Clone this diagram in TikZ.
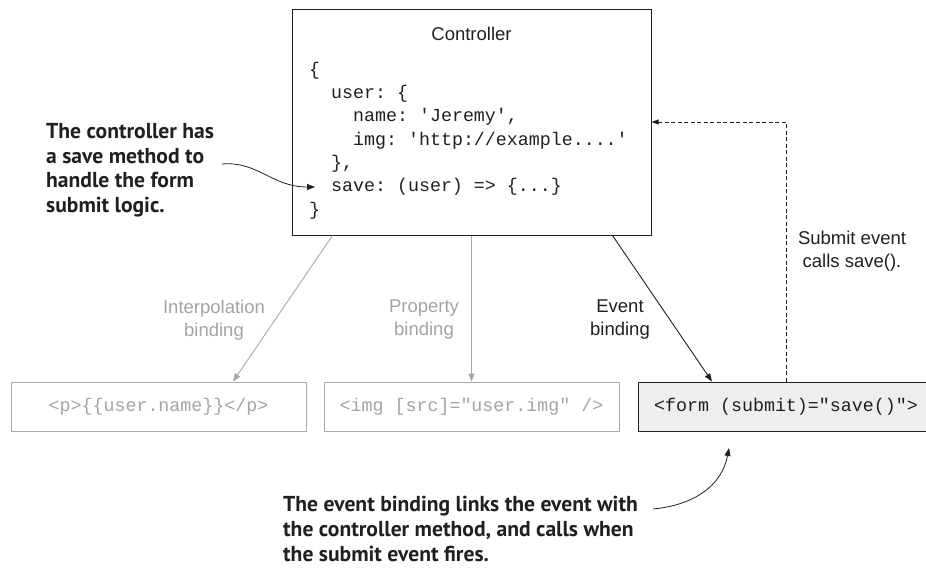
\documentclass[tikz,border=0pt]{standalone}
\usepackage{fontspec}
\setmainfont{Liberation Sans}
\setmonofont{Liberation Mono}
\newfontfamily\annfont{PT Sans}
\usetikzlibrary{arrows.meta,calc}
\definecolor{ink}{HTML}{231F20}
\definecolor{lgrey}{HTML}{A8A8A8}
\definecolor{tgrey}{HTML}{A4A4A4}
\definecolor{formfill}{HTML}{EDEEF0}
\tikzset{
  ctrlbox/.style={draw=ink, line width=1pt, minimum width=359pt, minimum height=226pt, inner sep=0pt},
  code/.style={anchor=base west, inner sep=0pt, text=ink, font=\ttfamily\frenchspacing\fontsize{18.3}{22}\selectfont},
  title/.style={anchor=base, inner sep=0pt, text=ink, font=\fontsize{18.5}{22}\selectfont},
  gbox/.style={draw=lgrey, line width=0.9pt, minimum width=295pt, minimum height=49pt, inner sep=0pt, text=tgrey, font=\ttfamily\frenchspacing\fontsize{18.3}{22}\selectfont},
  fbox/.style={draw=ink, fill=formfill, line width=1pt, minimum width=295pt, minimum height=49pt, inner sep=0pt, text=ink, font=\ttfamily\frenchspacing\fontsize{18.3}{22}\selectfont},
  glabel/.style={align=center, inner sep=0pt, text=tgrey, font=\fontsize{18.5}{23}\selectfont},
  blabel/.style={align=center, inner sep=0pt, text=ink, font=\fontsize{18.5}{23}\selectfont},
  ann/.style={align=left, anchor=north west, inner sep=0pt, text=ink, font=\annfont\bfseries\fontsize{21.6}{24.8}\selectfont},
  tip/.style={-{Triangle[length=8pt,width=6pt]}},
  garrow/.style={tip, draw=lgrey, line width=0.9pt},
  barrow/.style={tip, draw=ink, line width=0.9pt},
  dasharrow/.style={-{Triangle[length=7pt,width=5pt]}, draw=ink, line width=0.9pt, dash pattern=on 4pt off 2.5pt},
  annarrow/.style={-{Triangle[length=8pt,width=6pt]}, draw=ink, line width=0.8pt}
}
\begin{document}
\begin{tikzpicture}[x=1pt,y=-1pt]
\useasboundingbox[fill=white] (0,0) rectangle (926,568);

% controller
\node[ctrlbox] (ctrl) at (471.5,122) {};
\node[title] (ttl) at (471.5,40) {Controller};
\node[code] (c1) at (309,75) {\{};
\node[code] (c2) at (331,98.3) {user: \{};
\node[code] (c3) at (353,121.7) {name: 'Jeremy',};
\node[code] (c4) at (353,145) {img: 'http://example....'};
\node[code] (c5) at (331,168.3) {\},};
\node[code] (c6) at (331,191.7) {save: (user) => \{...\}};
\node[code] (c7) at (309,215) {\}};

% bottom boxes
\node[gbox] (interp) at (158.5,406.5) {<p>\{\{user.name\}\}</p>};
\node[gbox] (prop) at (471.5,406.5) {<img [src]="user.img" />};
\node[fbox] (form) at (786,406.5) {<form (submit)="save()">};

% labels
\node[glabel] (li) at (214,320) {Interpolation\\binding};
\node[glabel] (lp) at (424,320) {Property\\binding};
\node[blabel] (le) at (620,320) {Event\\binding};
\node[blabel] (ls) at (852,251) {Submit event\\calls save().};

% connectors
\draw[garrow] ([xshift=41pt]ctrl.south west) -- ([xshift=74.5pt]interp.north);
\draw[garrow] (ctrl.south) -- (prop.north);
\draw[barrow] ([xshift=-39pt]ctrl.south east) -- ([xshift=-74pt]form.north);
\draw[dasharrow] (form.north) |- (ctrl.east);

% annotations
\node[ann] (a1) at (46,123) {The controller has\\a save method to\\handle the form\\submit logic.};
\node[ann] (a2) at (283,496) {The event binding links the event with\\the controller method, and calls when\\the submit event fires.};
\coordinate (a1s) at (222,164);
\coordinate (a1e) at (315,187);
\coordinate (a2s) at (653,509);
\coordinate (a2e) at (729,448);
\draw[annarrow] (a1s) .. controls (258,161) and (272,187) .. (a1e);
\draw[annarrow] (a2s) .. controls (695,505) and (722,485) .. (a2e);
\end{tikzpicture}
\end{document}
